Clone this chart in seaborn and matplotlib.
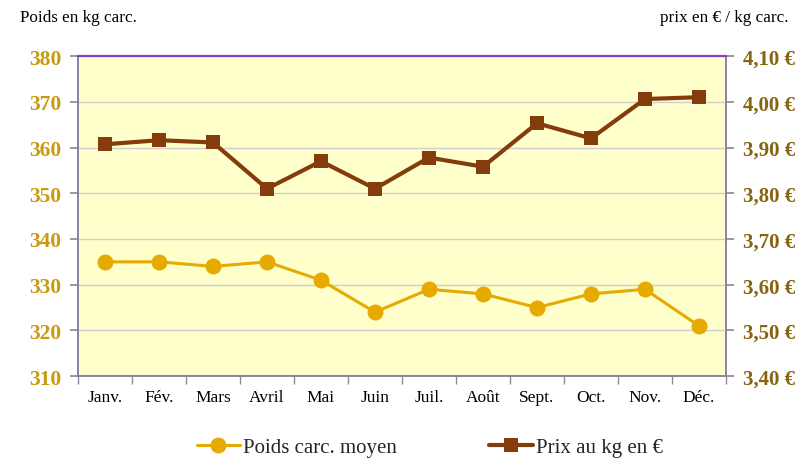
import matplotlib
matplotlib.use("Agg")
import matplotlib.pyplot as plt
import seaborn as sns
import pandas as pd
from matplotlib.ticker import FixedLocator, FuncFormatter

months = ["Janv.", "Fév.", "Mars", "Avril", "Mai", "Juin", "Juil.", "Août",
          "Sept.", "Oct.", "Nov.", "Déc."]
poids = [335, 335, 334, 335, 331, 324, 329, 328, 325, 328, 329, 321]
prix = [3.907, 3.916, 3.911, 3.810, 3.870, 3.810, 3.878, 3.858, 3.953, 3.920, 4.006, 4.010]
left_ticks = [310, 320, 330, 340, 350, 360, 370, 380]
right_ticks = [3.40, 3.50, 3.60, 3.70, 3.80, 3.90, 4.00, 4.10]

sns.set_theme(style="white")
plt.rcParams['font.family'] = ['Liberation Serif', 'DejaVu Serif']

df = pd.DataFrame({"mois": months, "poids": poids, "prix": prix})

c_poids = "#E6AA00"
c_prix = "#843C0C"
c_left = "#C99A0A"
c_right = "#866410"

fig = plt.figure(figsize=(8, 4.6), dpi=100)
ax = fig.add_axes([0.0975, 0.180, 0.81, 0.696])
ax.set_facecolor("#FFFFCC")

sns.lineplot(data=df, x="mois", y="poids", ax=ax, color=c_poids, marker="o",
             markersize=11.5, linewidth=2.2, markeredgewidth=0, label="Poids carc. moyen",
             sort=False, legend=False)
ax2 = ax.twinx()
sns.lineplot(data=df, x="mois", y="prix", ax=ax2, color=c_prix, marker="s",
             markersize=10.5, linewidth=3.0, markeredgewidth=0, label="Prix au kg en €",
             sort=False, legend=False)

ax.set_xlim(-0.5, len(months) - 0.5)
ax.set_ylim(310, 380)
ax2.set_ylim(3.40, 4.10)
ax.set_yticks(left_ticks)
ax2.set_yticks(right_ticks)
ax.yaxis.grid(True, color="#CFCFCF", linewidth=1)
ax.set_axisbelow(True)
ax.set_xlabel("")
ax.set_ylabel("")
ax2.set_ylabel("")

ax.set_xticks(range(len(months)))
ax.set_xticklabels(months, fontsize=12.5, color="black")
ax.xaxis.set_minor_locator(FixedLocator([i - 0.5 for i in range(len(months) + 1)]))
ax.tick_params(axis="x", which="major", length=0, pad=9)
ax.tick_params(axis="x", which="minor", length=6, color="#8C8C8C", direction="out", bottom=True)
ax.tick_params(axis="y", length=6, color="#8C8C8C", direction="out", left=True, pad=6)
for lab in ax.get_yticklabels():
    lab.set_fontsize(15.5)
    lab.set_fontweight("bold")
    lab.set_color(c_left)

ax2.yaxis.set_major_formatter(FuncFormatter(lambda v, p: f"{v:.2f} €".replace(".", ",")))
ax2.tick_params(axis="y", length=6, color="#8C8C8C", direction="out", right=True, pad=6)
for lab in ax2.get_yticklabels():
    lab.set_fontsize(15)
    lab.set_fontweight("bold")
    lab.set_color(c_right)

for a in (ax, ax2):
    for side in ("left", "right", "bottom"):
        a.spines[side].set_color("#8C80A8")
        a.spines[side].set_linewidth(1.2)
    a.spines["top"].set_color("#8B3CC8")
    a.spines["top"].set_linewidth(1.5)

fig.text(0.025, 0.96, "Poids en kg carc.", fontsize=12.3, ha="left", va="center", color="black")
fig.text(0.986, 0.96, "prix en € / kg carc.", fontsize=12.3, ha="right", va="center", color="black")

h1, l1 = ax.get_legend_handles_labels()
h2, l2 = ax2.get_legend_handles_labels()
fig.legend(h1 + h2, l1 + l2, loc="center", bbox_to_anchor=(0.537, 0.025), ncol=2,
           frameon=False, fontsize=15, handlelength=2.1, handletextpad=0.15,
           columnspacing=4.4)

fig.savefig("out.png", dpi=100)
